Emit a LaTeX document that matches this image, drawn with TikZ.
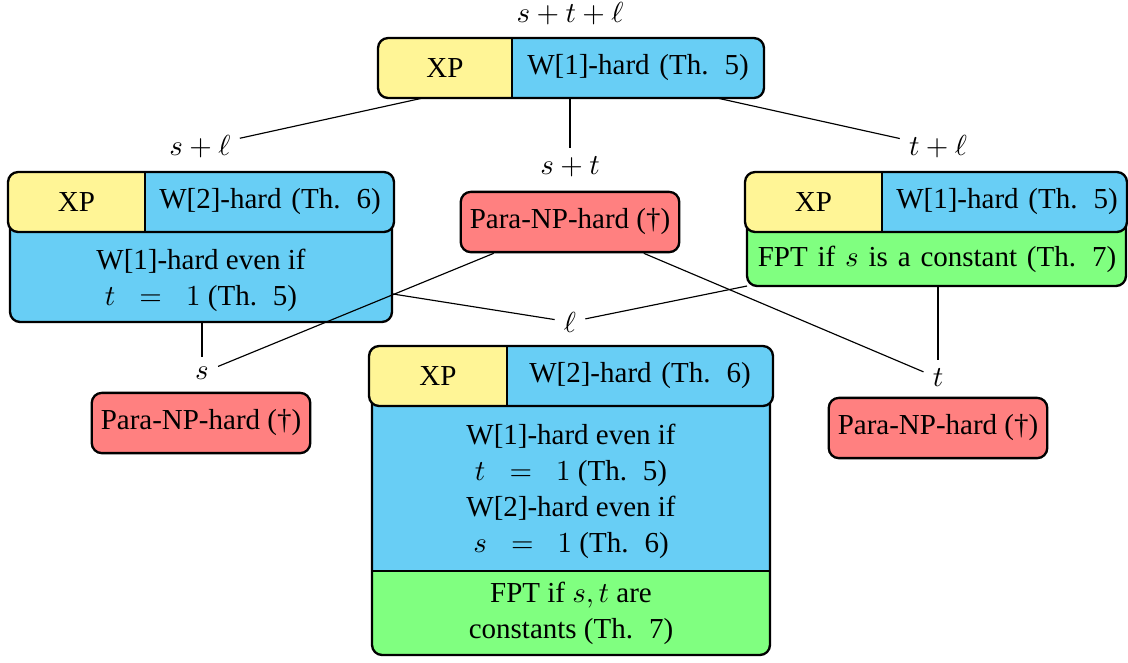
\documentclass[tikz,border=0pt]{standalone}
\usepackage{fontspec}
\setmainfont{Liberation Serif}
\definecolor{cyel}{RGB}{255,245,150}
\definecolor{cblu}{RGB}{104,206,245}
\definecolor{cred}{RGB}{255,128,128}
\definecolor{cgrn}{RGB}{128,255,128}
\newcommand\rowbox[5]{%
  \begin{scope}
    \clip[rounded corners=3.5pt] (#1,#2) rectangle (#4,#5);
    \fill[cyel] (#1,#2) rectangle (#3,#5);
    \fill[cblu] (#3,#2) rectangle (#4,#5);
  \end{scope}
  \draw[boxline,rounded corners=3.5pt] (#1,#2) rectangle (#4,#5);
  \draw[boxline] (#3,#2) -- (#3,#5);
}
\newcommand\thsp{\hspace{5.5pt}}
\tikzset{
  edge/.style={line width=0.4pt},
  boxline/.style={line width=0.8pt},
  lbl/.style={inner sep=3pt},
  txt/.style={inner sep=0pt, align=center},
  widetxt/.style={txt, execute at begin node={\spaceskip=3.4pt plus 1pt minus 1pt\relax}},
  redbox/.style={draw, boxline, fill=cred, rounded corners=3.5pt, inner sep=0pt,
    minimum width=75.4pt, minimum height=20.8pt}
}
\begin{document}
\begin{tikzpicture}[x=0.345pt,y=-0.345pt,font=\fontsize{10}{12.4}\selectfont]
\useasboundingbox (0,0) rectangle (1128,662);

% ---- top box (s+t+l)
\rowbox{378}{38}{512}{764}{98}
\node[txt] (tXP) at (445,68) {XP};
\node[widetxt] (tW) at (638,68) {W[1]-hard (Th.\thsp 5)};

% ---- left box (s+l)
\filldraw[boxline, fill=cblu, rounded corners=3.5pt] (10,215) rectangle (392,322);
\rowbox{8}{172}{145}{394}{232}
\node[txt] (lXP) at (76.5,202) {XP};
\node[widetxt] (lW) at (270,202) {W[2]-hard (Th.\thsp 6)};
\node[txt] (lB) at (201,280) {W[1]-hard even if\\ $t\;\;=\;\;1$ (Th.\thsp 5)};

% ---- right box (t+l)
\filldraw[boxline, fill=cgrn, rounded corners=3.5pt] (747,215) rectangle (1126,286);
\rowbox{745}{172}{882}{1127}{232}
\node[txt] (rXP) at (813.5,202) {XP};
\node[widetxt] (rW) at (1007,202) {W[1]-hard (Th.\thsp 5)};
\node[widetxt] (rB) at (937,259) {FPT if $s$ is a constant (Th.\thsp 7)};

% ---- bottom center box (l)
\begin{scope}
  \clip[rounded corners=3.5pt] (372,390) rectangle (770,655);
  \fill[cblu] (372,390) rectangle (770,571);
  \fill[cgrn] (372,571) rectangle (770,655);
\end{scope}
\draw[boxline, rounded corners=3.5pt] (372,390) rectangle (770,655);
\draw[boxline] (372,571) -- (770,571);
\rowbox{369}{346}{507}{773}{406}
\node[txt] (bXP) at (438,376) {XP};
\node[widetxt] (bW) at (640,376) {W[2]-hard (Th.\thsp 6)};
\node[txt] (bB) at (571,491) {W[1]-hard even if\\ $t\;\;=\;\;1$ (Th.\thsp 5)\\ W[2]-hard even if\\ $s\;\;=\;\;1$ (Th.\thsp 6)};
\node[txt] (bG) at (571,613) {FPT if $s,t$ are\\ constants (Th.\thsp 7)};

% ---- red boxes
\node[redbox] (mid) at (570,222) {Para-NP-hard (†)};
\node[redbox] (rs) at (201,423) {Para-NP-hard (†)};
\node[redbox] (rt) at (938,428) {Para-NP-hard (†)};

% ---- labels
\node[lbl] (lstl) at (570,14) {$s+t+\ell$};
\node[lbl] (lsl) at (200,147) {$s+\ell$};
\node[lbl] (lst) at (570,167) {$s+t$};
\node[lbl] (ltl) at (938,147) {$t+\ell$};
\node[lbl] (ll) at (570,322) {$\ell$};
\node[lbl] (ls) at (202,373) {$s$};
\node[lbl] (lt) at (938,378) {$t$};

% ---- connectors
\coordinate (T-w) at (423,98);
\coordinate (T-s) at (570,98);
\coordinate (T-e) at (717,98);
\coordinate (L-s) at (202,322);
\coordinate (L-e) at (393,294);
\coordinate (R-w) at (747,286);
\coordinate (R-s) at (938,286);
\draw[edge] (T-w) -- (lsl);
\draw[edge] (T-s) -- (lst);
\draw[edge] (T-e) -- (ltl);
\draw[edge] (L-s) -- (ls);
\draw[edge] (L-e) -- (ll);
\draw[edge] (mid) -- (ls);
\draw[edge] (mid) -- (lt);
\draw[edge] (R-w) -- (ll);
\draw[edge] (R-s) -- (lt);
\end{tikzpicture}
\end{document}
